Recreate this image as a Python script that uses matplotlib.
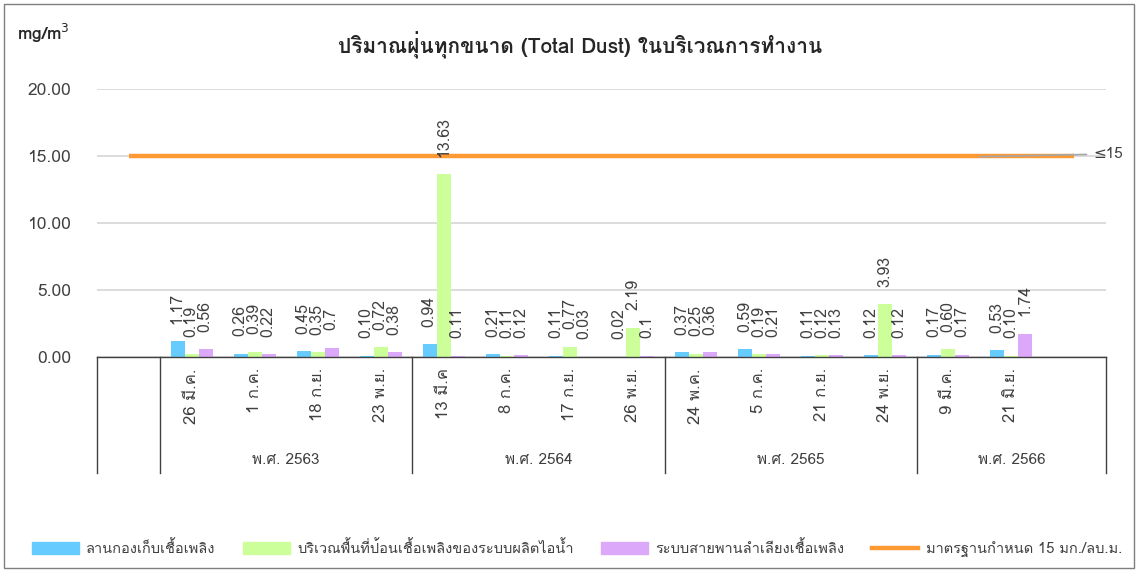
import matplotlib
matplotlib.use("Agg")
import matplotlib.pyplot as plt
from matplotlib import font_manager
from matplotlib.ft2font import FT2Font
from matplotlib.patches import Patch, Rectangle
from matplotlib.lines import Line2D
import matplotlib.transforms as mtransforms
import numpy as np


def thai_family():
    # installed families with Thai glyphs; looped designs first
    found = []
    for entry in font_manager.fontManager.ttflist:
        try:
            if 0x0E01 in FT2Font(entry.fname).get_charmap():
                found.append(entry.name)
        except Exception:
            continue
    for pref in ['Tahoma', 'Leelawadee', 'Loma', 'Garuda', 'Looped', 'Sarabun']:
        for name in found:
            if pref in name:
                return name
    return found[0] if found else None


fam = thai_family()
plt.rcParams['font.family'] = [fam, 'DejaVu Sans'] if fam else ['DejaVu Sans']

# categories: one blank slot in front, one blank slot at the end of 2566
dates = ['', '26 มี.ค.', '1 ก.ค.', '18 ก.ย.', '23 พ.ย.',
         '13 มี.ค', '8 ก.ค.', '17 ก.ย.', '26 พ.ย.',
         '24 พ.ค.', '5 ก.ค.', '21 ก.ย.', '24 พ.ย.',
         '9 มี.ค.', '21 มิ.ย.', '']
years = ['พ.ศ. 2563', 'พ.ศ. 2564', 'พ.ศ. 2565', 'พ.ศ. 2566']
year_start = [1, 5, 9, 13]
year_size = [4, 4, 4, 3]

yard = ['', '1.17', '0.26', '0.45', '0.10', '0.94', '0.21', '0.11', '0.02',
        '0.37', '0.59', '0.11', '0.12', '0.17', '0.53', '']
feed = ['', '0.19', '0.39', '0.35', '0.72', '13.63', '0.11', '0.77', '2.19',
        '0.25', '0.19', '0.12', '3.93', '0.60', '0.10', '']
conveyor = ['', '0.56', '0.22', '0.7', '0.38', '0.11', '0.12', '0.03', '0.1',
            '0.36', '0.21', '0.13', '0.12', '0.17', '1.74', '']
limit = [15] * len(dates)

names = ['ลานกองเก็บเชื้อเพลิง',
         'บริเวณพื้นที่ป้อนเชื้อเพลิงของระบบผลิตไอน้ำ',
         'ระบบสายพานลำเลียงเชื้อเพลิง',
         'มาตรฐานกำหนด 15 มก./ลบ.ม.']
colors = ['#66CCFF', '#CCFF99', '#DCA8FA']
orange = '#FF9933'

W, H = 1138, 572
fig = plt.figure(figsize=(W / 100, H / 100), dpi=100)
ax = fig.add_axes([97 / W, (H - 357) / H, (1106 - 97) / W, (357 - 89) / H])

x = np.arange(len(dates))
bw = 0.222
for k, (ser, c) in enumerate(zip([yard, feed, conveyor], colors)):
    for i, s in enumerate(ser):
        if s == '':
            continue
        v = float(s)
        xi = x[i] + (k - 1) * bw
        ax.bar(xi, v, width=bw, color=c, zorder=3)
        ax.annotate(s, (xi, v), xytext=(0, 12.5), textcoords='offset points',
                    rotation=90, ha='center', va='bottom', fontsize=11.5,
                    color='#404040', zorder=7)

ax.plot(x, limit, color=orange, lw=3.2, zorder=5, solid_capstyle='butt')
ax.annotate('≤15', xy=(13.5, 14.95), xytext=(15.3, 15.15),
            ha='left', va='center', fontsize=11, color='#404040',
            arrowprops=dict(arrowstyle='-', color='#a6a6a6', lw=1.2,
                            shrinkA=3, shrinkB=0),
            annotation_clip=False, zorder=6)

ax.set_xlim(-0.5, len(dates) - 0.5)
ax.set_ylim(0, 20)
ax.set_yticks([0, 5, 10, 15, 20])
ax.set_yticklabels(['%.2f' % t for t in [0, 5, 10, 15, 20]])
ax.tick_params(axis='y', length=0, pad=18.5, labelsize=12.5, labelcolor='#404040')
ax.tick_params(axis='x', length=0, labelbottom=False)
ax.grid(axis='y', color='#d9d9d9', lw=1.3, zorder=0)
for side in ['left', 'right', 'top']:
    ax.spines[side].set_visible(False)
ax.spines['bottom'].set_color('#404040')
ax.spines['bottom'].set_linewidth(1.0)
ax.spines['bottom'].set_zorder(6)

# two-level category axis
trans = mtransforms.blended_transform_factory(ax.transData, ax.transAxes)
ax_h = 357 - 89
for i, d in enumerate(dates):
    if d:
        ax.text(x[i], -11 / ax_h, d, rotation=90, ha='center', va='top',
                fontsize=12, color='#404040', transform=trans)
for yl, st, n in zip(years, year_start, year_size):
    ax.text(st - 0.5 + n / 2, -103 / ax_h, yl, ha='center', va='center',
            fontsize=11, color='#404040', transform=trans)
bounds = [-0.5] + [s - 0.5 for s in year_start] + [len(dates) - 0.5]
for b in bounds:
    ax.plot([b, b], [0, -116 / ax_h], color='#404040', lw=1.0,
            transform=trans, clip_on=False)

fig.text(17 / W, 1 - 33 / H, 'mg/m$^3$', fontsize=12.5, fontweight='bold',
         color='#262626', va='center', ha='left')
fig.text(580 / W, 1 - 45 / H,
         'ปริมาณฝุ่นทุกขนาด (Total Dust) ในบริเวณการทำงาน',
         fontsize=15, fontweight='bold', color='#262626',
         ha='center', va='center')

handles = [Patch(color=c) for c in colors] + [Line2D([], [], color=orange, lw=3.2)]
fig.legend(handles, names, loc='center', bbox_to_anchor=(577 / W, 1 - 549 / H),
           ncol=4, frameon=False, fontsize=10.5, handlelength=3.2,
           handleheight=0.9, columnspacing=1.9, handletextpad=0.5,
           labelcolor='#404040')

fig.add_artist(Rectangle((4 / W, 4 / H), (W - 8) / W, (H - 8) / H,
                         transform=fig.transFigure, fill=False,
                         edgecolor='#7f7f7f', lw=1.0))

fig.savefig('out.png', dpi=100)
